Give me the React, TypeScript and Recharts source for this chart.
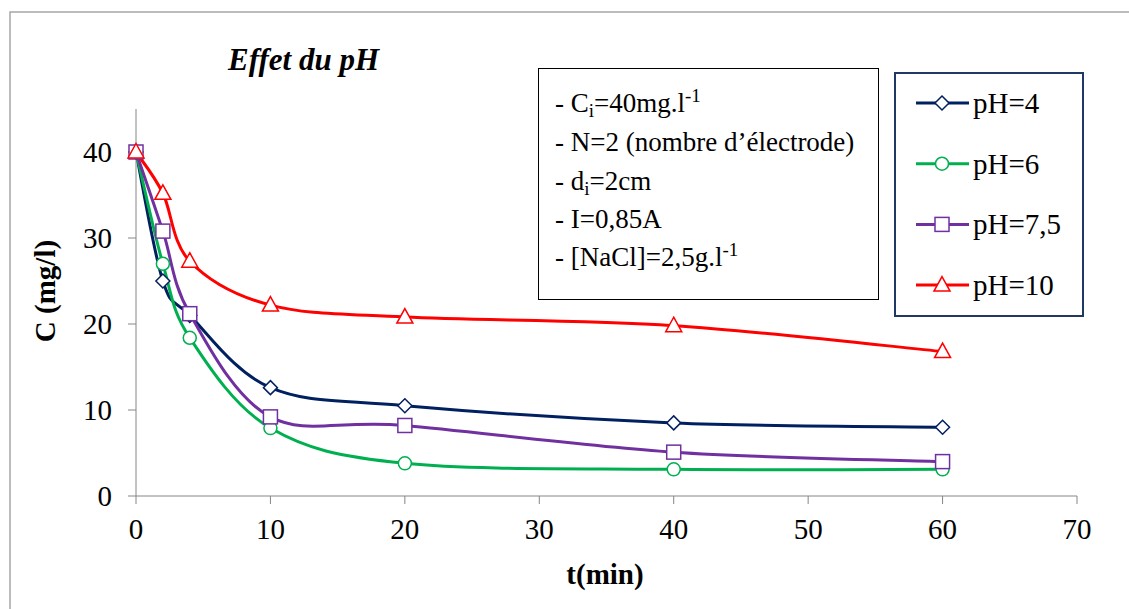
import React from 'react';
import { LineChart, Line, XAxis, YAxis } from 'recharts';

// time (min) and concentration (mg/l) for each pH
const times = [0, 2, 4, 10, 20, 40, 60];
const ph4 = [40, 25, 21, 12.6, 10.5, 8.5, 8.0];
const ph6 = [40, 27, 18.4, 7.9, 3.8, 3.1, 3.1];
const ph75 = [40, 30.8, 21.2, 9.2, 8.2, 5.1, 4.0];
const ph10 = [40, 35.2, 27.3, 22.2, 20.8, 19.8, 16.8];

const xTicks = [0, 10, 20, 30, 40, 50, 60, 70];
const yTicks = [0, 10, 20, 30, 40];

const data = times.map((t, i) => ({
  t,
  ph4: ph4[i],
  ph6: ph6[i],
  ph75: ph75[i],
  ph10: ph10[i]
}));

const COLORS = {
  ph4: '#002060',
  ph6: '#00b050',
  ph75: '#7030a0',
  ph10: '#ff0000'
};

const FONT = 'Liberation Serif';
const AXIS = '#868686';

// Excel-like smoothed line (Catmull-Rom turned into beziers)
const excelCurve = (context: any) => {
  let pts: number[][] = [];
  return {
    areaStart() {},
    areaEnd() {},
    lineStart() {
      pts = [];
    },
    point(x: number, y: number) {
      pts.push([+x, +y]);
    },
    lineEnd() {
      const n = pts.length;
      if (!n) return;
      context.moveTo(pts[0][0], pts[0][1]);
      for (let i = 0; i < n - 1; i++) {
        const p0 = pts[Math.max(i - 1, 0)];
        const p1 = pts[i];
        const p2 = pts[i + 1];
        const p3 = pts[Math.min(i + 2, n - 1)];
        context.bezierCurveTo(
          p1[0] + (p2[0] - p0[0]) / 6,
          p1[1] + (p2[1] - p0[1]) / 6,
          p2[0] - (p3[0] - p1[0]) / 6,
          p2[1] - (p3[1] - p1[1]) / 6,
          p2[0],
          p2[1]
        );
      }
    }
  };
};

const marker = (kind: string, cx: number, cy: number, key?: any) => {
  const common = { fill: '#fff', strokeWidth: 1.5 };
  switch (kind) {
    case 'ph4':
      return (
        <polygon key={key} points={`${cx},${cy - 7} ${cx + 7},${cy} ${cx},${cy + 7} ${cx - 7},${cy}`}
          stroke={COLORS.ph4} {...common} />
      );
    case 'ph6':
      return <circle key={key} cx={cx} cy={cy} r={6.5} stroke={COLORS.ph6} {...common} />;
    case 'ph75':
      return <rect key={key} x={cx - 7} y={cy - 7} width={14} height={14} stroke={COLORS.ph75} {...common} />;
    default:
      return (
        <polygon key={key} points={`${cx},${cy - 8.5} ${cx + 8},${cy + 6} ${cx - 8},${cy + 6}`}
          stroke={COLORS.ph10} {...common} />
      );
  }
};

const series = [
  { key: 'ph4', name: 'pH=4' },
  { key: 'ph6', name: 'pH=6' },
  { key: 'ph75', name: 'pH=7,5' },
  { key: 'ph10', name: 'pH=10' }
];

export default function App() {
  const sub = 19;
  return (
    <div style={{ position: 'absolute', left: 0, top: 0, width: 1129, height: 609, background: '#fff', overflow: 'hidden' }}>
      <LineChart
        width={1129}
        height={609}
        data={data}
        margin={{ top: 109, right: 52, bottom: 20, left: 76 }}
      >
        <XAxis
          dataKey="t"
          type="number"
          domain={[0, 70]}
          ticks={xTicks}
          height={93}
          stroke={AXIS}
          tickSize={8}
          tickMargin={14}
          tick={{ fill: '#000', fontSize: 29, fontFamily: FONT }}
        />
        <YAxis
          type="number"
          domain={[0, 45]}
          ticks={yTicks}
          width={60}
          stroke={AXIS}
          tickSize={8}
          tickMargin={16}
          tick={{ fill: '#000', fontSize: 29, fontFamily: FONT }}
        />
        {series.map((s) => (
          <Line
            key={s.key}
            dataKey={s.key}
            name={s.name}
            type={excelCurve as any}
            stroke={COLORS[s.key as keyof typeof COLORS]}
            strokeWidth={3}
            dot={(p: any) => marker(s.key, p.cx, p.cy, `${s.key}-${p.index}`)}
            activeDot={false}
            isAnimationActive={false}
          />
        ))}
      </LineChart>

      <svg width={1129} height={609} style={{ position: 'absolute', left: 0, top: 0, pointerEvents: 'none' }}>
        {/* chart frame */}
        <rect x={10} y={12} width={1140} height={620} fill="none" stroke="#a6a6a6" strokeWidth={1.5} />

        <text x={228} y={70} fontSize={31} fontFamily={FONT} fontWeight="bold" fontStyle="italic">Effet du pH</text>

        <text x={45} y={291} fontSize={29} fontFamily={FONT} fontWeight="bold" textAnchor="middle"
          dominantBaseline="central" transform="rotate(-90 45 291)">C (mg/l)</text>
        <text x={605} y={584} fontSize={29} fontFamily={FONT} fontWeight="bold" textAnchor="middle">t(min)</text>

        {/* conditions box */}
        <rect x={538.5} y={68.5} width={340} height={231} fill="#fff" stroke="#000" strokeWidth={1} />
        <g fontSize={27} fontFamily={FONT}>
          <text x={555} y={112} fontFamily={FONT}>
            - C<tspan fontSize={sub} dy={5}>i</tspan><tspan dy={-5}>=40mg.l</tspan>
            <tspan fontSize={sub} dy={-10}>-1</tspan>
          </text>
          <text x={555} y={151} fontFamily={FONT}>- N=2 (nombre d’électrode)</text>
          <text x={555} y={190} fontFamily={FONT}>
            - d<tspan fontSize={sub} dy={5}>i</tspan><tspan dy={-5}>=2cm</tspan>
          </text>
          <text x={555} y={228} fontFamily={FONT}>- I=0,85A</text>
          <text x={555} y={266} fontFamily={FONT}>
            - [NaCl]=2,5g.l<tspan fontSize={sub} dy={-10}>-1</tspan>
          </text>
        </g>

        {/* legend */}
        <rect x={895} y={73} width={188} height={243} fill="#fff" stroke="#203864" strokeWidth={2} />
        {series.map((s, i) => {
          const cy = 103 + i * 60.7;
          return (
            <g key={s.key}>
              <line x1={916} x2={969} y1={cy} y2={cy} stroke={COLORS[s.key as keyof typeof COLORS]} strokeWidth={3} />
              {marker(s.key, 942, cy)}
              <text x={973} y={cy + 10} fontSize={29} fontFamily={FONT}>{s.name}</text>
            </g>
          );
        })}
      </svg>
    </div>
  );
}
